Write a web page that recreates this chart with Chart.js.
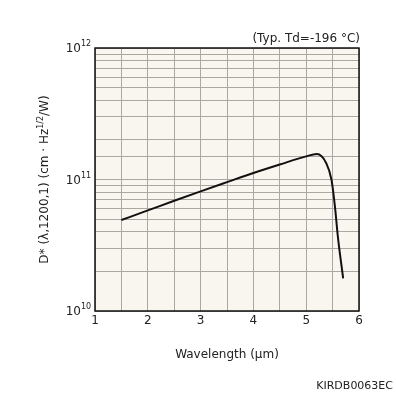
<!DOCTYPE html>
<html>
<head>
<meta charset="utf-8">
<script src="https://cdn.jsdelivr.net/npm/chart.js@4.4.1/dist/chart.umd.min.js"></script>
<style>
  html, body { margin: 0; padding: 0; background: #fff; }
  #wrap { width: 396px; height: 396px; }
</style>
</head>
<body>
<div id="wrap"><canvas id="chart" width="396" height="396"></canvas></div>
<script>
// Data (wavelength in µm, D* in cm·Hz^1/2/W)
const wavelength = [1.5, 2.0, 2.5, 3.0, 3.5, 4.0, 4.5, 5.0, 5.2, 5.38, 5.48, 5.545, 5.6, 5.7];
const dstar = [4.92e10, 5.82e10, 6.89e10, 8.13e10, 9.55e10, 1.12e11, 1.30e11, 1.50e11, 1.56e11, 1.33e11, 9.9e10, 6.2e10, 3.67e10, 1.77e10];

const xTicks = [1, 2, 3, 4, 5, 6];
const yExponents = [10, 11, 12];

const FONT = '"DejaVu Sans", Verdana, sans-serif';
const GRID = '#a9a9a2';

// cream plot background, frame, custom labels with superscripts
const decor = {
    id: 'decor',
    beforeDraw(chart) {
        const { ctx, chartArea: a } = chart;
        ctx.save();
        ctx.fillStyle = '#f8f6ee';
        ctx.fillRect(a.left, a.top, a.right - a.left, a.bottom - a.top);
        ctx.restore();
    },
    afterDraw(chart) {
        const { ctx, chartArea: a, scales } = chart;
        ctx.save();
        ctx.strokeStyle = '#111';
        ctx.lineWidth = 1.5;
        ctx.strokeRect(a.left, a.top, a.right - a.left, a.bottom - a.top);

        ctx.fillStyle = '#222';
        // x tick labels
        ctx.font = '12px ' + FONT;
        ctx.textAlign = 'center';
        ctx.textBaseline = 'top';
        xTicks.forEach(v => ctx.fillText(String(v), scales.x.getPixelForValue(v), a.bottom + 4));

        // y tick labels 10^n
        yExponents.forEach(e => {
            const y = scales.y.getPixelForValue(Math.pow(10, e));
            ctx.font = '12px ' + FONT;
            ctx.textAlign = 'right';
            ctx.textBaseline = 'middle';
            ctx.fillText('10', a.left - 14, y + 1);
            ctx.font = '8px ' + FONT;
            ctx.textAlign = 'left';
            ctx.fillText(String(e), a.left - 14, y - 4);
        });

        // x title
        ctx.font = '12px ' + FONT;
        ctx.textAlign = 'center';
        ctx.textBaseline = 'middle';
        ctx.fillText('Wavelength (μm)', (a.left + a.right) / 2, 355);

        // note top right
        ctx.textAlign = 'right';
        ctx.fillText('(Typ. Td=-196 °C)', a.right + 1, 39);

        // code bottom right
        ctx.font = '11px ' + FONT;
        ctx.fillText('KIRDB0063EC', 393, 386);

        // y title, rotated, with Hz^1/2
        ctx.translate(45, (a.top + a.bottom) / 2);
        ctx.rotate(-Math.PI / 2);
        const parts = [
            ['D* (λ,1200,1) (cm · Hz', '12px ', 0],
            ['1/2', '8px ', -4],
            ['/W)', '12px ', 0]
        ];
        let total = 0;
        parts.forEach(p => { ctx.font = p[1] + FONT; total += ctx.measureText(p[0]).width; });
        let x = -total / 2;
        ctx.textAlign = 'left';
        parts.forEach(p => {
            ctx.font = p[1] + FONT;
            ctx.fillText(p[0], x, p[2]);
            x += ctx.measureText(p[0]).width;
        });
        ctx.restore();
    }
};

new Chart(document.getElementById('chart'), {
    type: 'line',
    data: {
        datasets: [{
            data: wavelength.map((w, i) => ({ x: w, y: dstar[i] })),
            borderColor: '#111',
            borderWidth: 2,
            pointRadius: 0,
            cubicInterpolationMode: 'monotone',
            fill: false
        }]
    },
    options: {
        responsive: false,
        animation: false,
        layout: { padding: { left: 95, right: 37, top: 48, bottom: 85 } },
        plugins: { legend: { display: false }, tooltip: { enabled: false } },
        scales: {
            x: {
                type: 'linear',
                min: 1, max: 6,
                ticks: { display: false, stepSize: 0.5 },
                grid: { color: GRID, lineWidth: 1, drawTicks: false },
                border: { display: false }
            },
            y: {
                type: 'logarithmic',
                min: 1e10, max: 1e12,
                ticks: { display: false },
                grid: { color: GRID, lineWidth: 1, drawTicks: false },
                border: { display: false }
            }
        }
    },
    plugins: [decor]
});
</script>
</body>
</html>
